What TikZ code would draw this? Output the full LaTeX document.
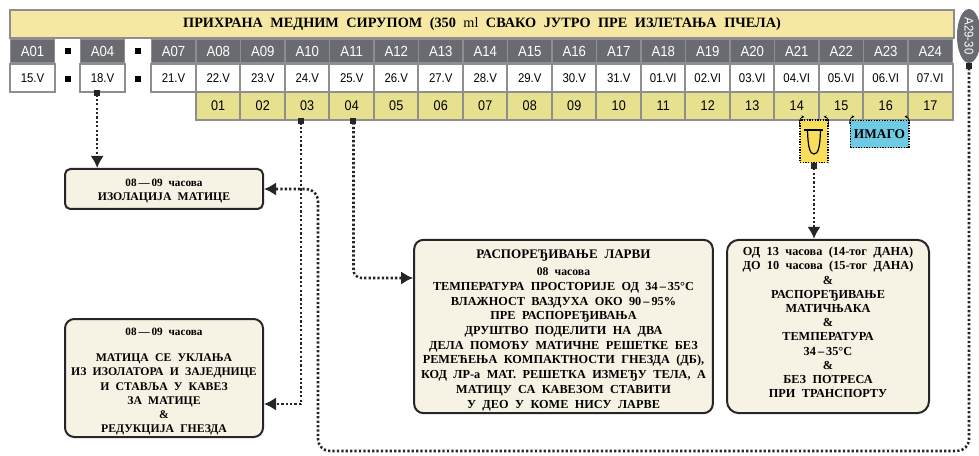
\documentclass[tikz,border=0pt]{standalone}
\usepackage{fontspec}
\usepackage{xcolor}
\usepackage{tikz}
\usetikzlibrary{
  arrows.meta,
  shapes.geometric,
  positioning,
  calc
}
\setmainfont{Liberation Serif}[WordSpace=2.1]
\setsansfont{Liberation Sans}[FakeStretch=0.9]
\definecolor{hrTitle}{HTML}{F6E7A2}
\definecolor{hrHead}{HTML}{6A6B70}
\definecolor{hrFrame}{HTML}{8E8E8E}
\definecolor{hrNum}{HTML}{E6E08F}
\definecolor{hrBox}{HTML}{F7F3E4}
\definecolor{hrTag}{HTML}{F9DE5C}
\definecolor{hrSky}{HTML}{6ECBE3}
\tikzset{
  titleband/.style={
    draw=hrFrame, line width=1.5pt, fill=hrTitle, minimum width=708pt, minimum height=21pt,
    inner sep=0pt, font=\fontsize{10.7}{12}\selectfont\bfseries
  },
  headcell/.style={
    draw=hrFrame, line width=1pt, fill=hrHead, text=white, minimum width=33.4pt, minimum height=18pt,
    inner sep=0pt, text height=8pt, text depth=0pt, font=\sffamily\fontsize{11}{12}\selectfont
  },
  datecell/.style={
    draw=hrFrame, line width=1.5pt, fill=white, minimum width=33.4pt, minimum height=21pt,
    inner sep=0pt, font=\sffamily\fontsize{9.5}{10}\selectfont
  },
  numcell/.style={
    draw=hrFrame, line width=1.5pt, fill=hrNum, minimum width=33.4pt, minimum height=21pt,
    inner sep=0pt, font=\sffamily\fontsize{10.5}{12}\selectfont
  },
  sepdot/.style={fill=black, minimum size=4.5pt, inner sep=0pt},
  notebox/.style={
    draw=black!85, line width=1.5pt, fill=hrBox, rounded corners=7pt, align=center, inner sep=0pt,
    font=\fontsize{8.8}{10.6}\selectfont\bfseries
  },
  phasetag/.style={draw=black, densely dotted, line width=1pt, inner sep=0pt},
  oval/.style={
    ellipse, fill=hrHead, text=white, minimum width=40.5pt, minimum height=18pt, inner sep=0pt,
    font=\sffamily\fontsize{9.5}{10}\selectfont, rotate=-90
  },
  link/.style={
    {Square[length=4.5pt,width=4.5pt]}-{Latex[length=9pt,width=10pt]},
    line width=1.9pt, black!85, dash pattern=on 1.7pt off 1.6pt
  },
  hookarrow/.style={-{Stealth[length=2.2pt,width=2.2pt]}, line width=.5pt, black}
}
\begin{document}
\begin{tikzpicture}[x=0.75pt, y=-0.75pt]
  \useasboundingbox (0,0) rectangle (979,456);
  \node[titleband] (title) at (482,24) {ПРИХРАНА МЕДНИМ СИРУПОМ (350 {\mdseries ml} СВАКО ЈУТРО ПРЕ ИЗЛЕТАЊА ПЧЕЛА)};
  \foreach \x/\cell/\dat in {32.5/A01/15.V, 102.5/A04/18.V, 173.5/A07/21.V}{
    \node[headcell] (h\cell) at (\x,51) {\cell};
    \node[datecell] (d\cell) at (\x,78) {\dat};
  }
  \foreach \x/\y/\nm in {68/51/a, 68/79/b, 138/51/c, 138/79/d}{
    \node[sepdot] (dot\nm) at (\x,\y) {};
  }
  \foreach \i/\cell/\dat/\num in {
    0/A08/22.V/01, 1/A09/23.V/02, 2/A10/24.V/03, 3/A11/25.V/04, 4/A12/26.V/05, 5/A13/27.V/06,
    6/A14/28.V/07, 7/A15/29.V/08, 8/A16/30.V/09, 9/A17/31.V/10, 10/A18/01.VI/11, 11/A19/02.VI/12,
    12/A20/03.VI/13, 13/A21/04.VI/14, 14/A22/05.VI/15, 15/A23/06.VI/16, 16/A24/07.VI/17}{
    \node[headcell] (h\cell) at ({218.25+44.5*\i},51) {\cell};
    \node[datecell] (d\cell) at ({218.25+44.5*\i},78) {\dat};
    \node[numcell] (n\cell) at ({218.25+44.5*\i},106) {\num};
  }
  \node[oval] (late) at (969,36) {A29-30};

  \node[phasetag, fill=hrTag, minimum width=21pt, minimum height=32pt] (cell) at (814,141.5) {};
  \node[phasetag, fill=hrSky, minimum width=44pt, minimum height=20.5pt, font=\fontsize{10}{11}\selectfont\bfseries] (imago) at (879.5,134) {ИМАГО};
  \draw[line width=.8pt] (804,130) -- (823,130);
  \draw[line width=.9pt] (807.5,130) .. controls (808,148) and (810,154) .. (814,154) .. controls (818,154) and (820,148) .. (820.5,130);
  \draw[hookarrow] ([yshift=-4pt]cell.north west) to[out=90, in=180] ++(5,-8);
  \draw[hookarrow] ([yshift=-4pt]cell.north east) to[out=90, in=0] ++(-5,-8);
  \draw[hookarrow] ([yshift=-3pt]imago.north west) to[out=90, in=180] ++(5,-7);
  \draw[hookarrow] ([yshift=-3pt]imago.north east) to[out=90, in=0] ++(-5,-7);

  \node[notebox, rounded corners=4pt, minimum width=148.5pt, minimum height=30pt] (isolate) at (164,189) {{\fontsize{8.4}{10}\selectfont\rule{0pt}{9pt}08\,---\,09 часова}\\ИЗОЛАЦИЈА МАТИЦЕ};
  \node[notebox, minimum width=148.5pt, minimum height=88.5pt] (remove) at (164,378) {{\fontsize{8.4}{10}\selectfont\rule{0pt}{11pt}08\,---\,09 часова}\\[9pt]МАТИЦА СЕ УКЛАЊА\\ИЗ ИЗОЛАТОРА И ЗАЈЕДНИЦЕ\\И СТАВЉА У КАВЕЗ\\ЗА МАТИЦЕ\\\&\\РЕДУКЦИЈА ГНЕЗДА};
  \node[notebox, minimum width=224pt, minimum height=130pt, font=\fontsize{9.2}{11.05}\selectfont\bfseries] (larvae) at (563.5,326.5) {{\fontsize{9.8}{11}\selectfont\rule{0pt}{12pt}РАСПОРЕЂИВАЊЕ ЛАРВИ}\\[2pt]{\fontsize{8.8}{10}\selectfont 08 часова}\\ТЕМПЕРАТУРА ПРОСТОРИЈЕ ОД 34\,--\,35°C\\ВЛАЖНОСТ ВАЗДУХА ОКО 90\,--\,95\%\\ПРЕ РАСПОРЕЂИВАЊА\\ДРУШТВО ПОДЕЛИТИ НА ДВА\\ДЕЛА ПОМОЋУ МАТИЧНЕ РЕШЕТКЕ БЕЗ\\РЕМЕЋЕЊА КОМПАКТНОСТИ ГНЕЗДА (ДБ),\\КОД ЛР-а МАТ. РЕШЕТКА ИЗМЕЂУ ТЕЛА, А\\МАТИЦУ СА КАВЕЗОМ СТАВИТИ\\У ДЕО У КОМЕ НИСУ ЛАРВЕ};
  \node[notebox, rounded corners=9pt, minimum width=151.5pt, minimum height=130pt, font=\fontsize{9.2}{10.65}\selectfont\bfseries] (queens) at (828,326.5) {ОД 13 часова (14-тог ДАНА)\\ДО 10 часова (15-тог ДАНА)\\\&\\РАСПОРЕЂИВАЊЕ\\МАТИЧЊАКА\\\&\\ТЕМПЕРАТУРА\\34\,--\,35°C\\\&\\БЕЗ ПОТРЕСА\\ПРИ ТРАНСПОРТУ\\[-4.6pt]\mbox{}};

  \draw[link] ([xshift=-4pt,yshift=2.5pt]dA04.south) coordinate (from04) -- (from04 |- isolate.north);
  \draw[link] ([xshift=-4.6pt,yshift=2.5pt]nA10.south) coordinate (from10) |- ($(remove.east)+(0,26)$);
  \draw[link, rounded corners=6pt] ([xshift=1.3pt,yshift=2.5pt]nA11.south) coordinate (from11) -- (from11 |- 0,278) -- (larvae.west |- 0,278);
  \draw[link] (cell.south) -- (cell.south |- queens.north);
  \draw[link, rounded corners=9pt] (late.east) -- (late.east |- 0,451) -- (318,451) -- (318,189) -- (isolate.east);
\end{tikzpicture}
\end{document}
